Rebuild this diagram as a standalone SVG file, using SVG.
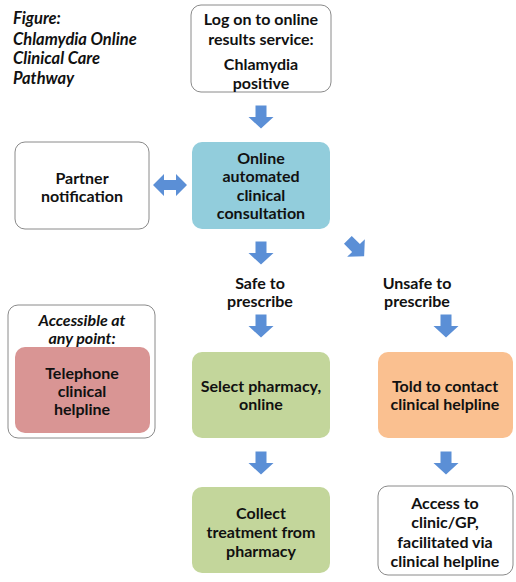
<svg xmlns="http://www.w3.org/2000/svg" xmlns:xlink="http://www.w3.org/1999/xlink" width="516" height="582" viewBox="0 0 516 582">
<style>
.t{font-family:Lato,"Liberation Sans",sans-serif;font-weight:bold;font-size:16px;fill:#111;text-anchor:middle;dominant-baseline:central}
.ti{font-style:italic}
.wb{fill:#fff;stroke:#8a8a8a;stroke-width:1}
.ar{fill:#5B8FD6}
</style>
<defs>
<path id="down" d="M-5.5,-11.5 H5.5 V0 H12.5 L0,11.5 L-12.5,0 H-5.5 Z"/>
</defs>
<rect width="516" height="582" fill="#fff"/>
<g id="title">
<text class="t ti" style="text-anchor:start;font-size:16.5px" x="13" y="18">Figure:</text>
<text class="t ti" style="text-anchor:start;font-size:16.5px" x="13" y="39">Chlamydia Online</text>
<text class="t ti" style="text-anchor:start;font-size:16.5px" x="13" y="58">Clinical Care</text>
<text class="t ti" style="text-anchor:start;font-size:16.5px" x="13" y="78">Pathway</text>
</g>
<g id="n-logon">
<rect class="wb" x="191" y="5" width="140" height="87" rx="10"/>
<text class="t" x="261" y="18">Log on to online</text>
<text class="t" x="261" y="38">results service:</text>
<text class="t" x="261" y="63">Chlamydia</text>
<text class="t" x="261" y="82">positive</text>
</g>
<g id="n-partner">
<rect class="wb" x="15" y="142" width="134" height="87" rx="10"/>
<text class="t" x="82" y="177">Partner</text>
<text class="t" x="82" y="195">notification</text>
</g>
<g id="n-online">
<rect x="192" y="142" width="138" height="87" rx="10" fill="#92CDDC"/>
<text class="t" x="261" y="157">Online</text>
<text class="t" x="261" y="175">automated</text>
<text class="t" x="261" y="194">clinical</text>
<text class="t" x="261" y="212">consultation</text>
</g>
<g id="l-safe">
<text class="t" x="260" y="282">Safe to</text>
<text class="t" x="260" y="300">prescribe</text>
</g>
<g id="l-unsafe">
<text class="t" x="417" y="282">Unsafe to</text>
<text class="t" x="417" y="300">prescribe</text>
</g>
<g id="n-access">
<rect class="wb" x="8" y="305" width="147" height="133" rx="10"/>
<text class="t ti" x="82" y="319">Accessible at</text>
<text class="t ti" x="82" y="337">any point:</text>
</g>
<g id="n-telephone">
<rect x="15" y="347" width="135" height="86" rx="10" fill="#D99594"/>
<text class="t" x="82" y="372">Telephone</text>
<text class="t" x="82" y="390">clinical</text>
<text class="t" x="82" y="408">helpline</text>
</g>
<g id="n-select">
<rect x="192" y="352" width="138" height="86" rx="10" fill="#C3D69B"/>
<text class="t" x="261" y="385">Select pharmacy,</text>
<text class="t" x="261" y="403">online</text>
</g>
<g id="n-told">
<rect x="378" y="352" width="135" height="86" rx="10" fill="#FAC090"/>
<text class="t" x="445" y="385">Told to contact</text>
<text class="t" x="445" y="403">clinical helpline</text>
</g>
<g id="n-collect">
<rect x="192" y="487" width="138" height="86" rx="10" fill="#C3D69B"/>
<text class="t" x="261" y="512">Collect</text>
<text class="t" x="261" y="531">treatment from</text>
<text class="t" x="261" y="550">pharmacy</text>
</g>
<g id="n-clinic">
<rect class="wb" x="378" y="486" width="135" height="89" rx="10"/>
<text class="t" x="445" y="502">Access to</text>
<text class="t" x="445" y="521">clinic/GP,</text>
<text class="t" x="445" y="541">facilitated via</text>
<text class="t" x="445" y="560">clinical helpline</text>
</g>
<g id="connectors">
<use href="#down" class="ar" x="261" y="117"/>
<path class="ar" d="M153,185 L164,174 V180 H176 V174 L187,185 L176,196 V190 H164 V196 Z"/>
<use href="#down" class="ar" x="261" y="253"/>
<use href="#down" class="ar" transform="translate(356,248) rotate(-45)"/>
<use href="#down" class="ar" x="261" y="326"/>
<use href="#down" class="ar" x="446" y="326"/>
<use href="#down" class="ar" x="261" y="463"/>
<use href="#down" class="ar" x="446" y="463"/>
</g>
</svg>
